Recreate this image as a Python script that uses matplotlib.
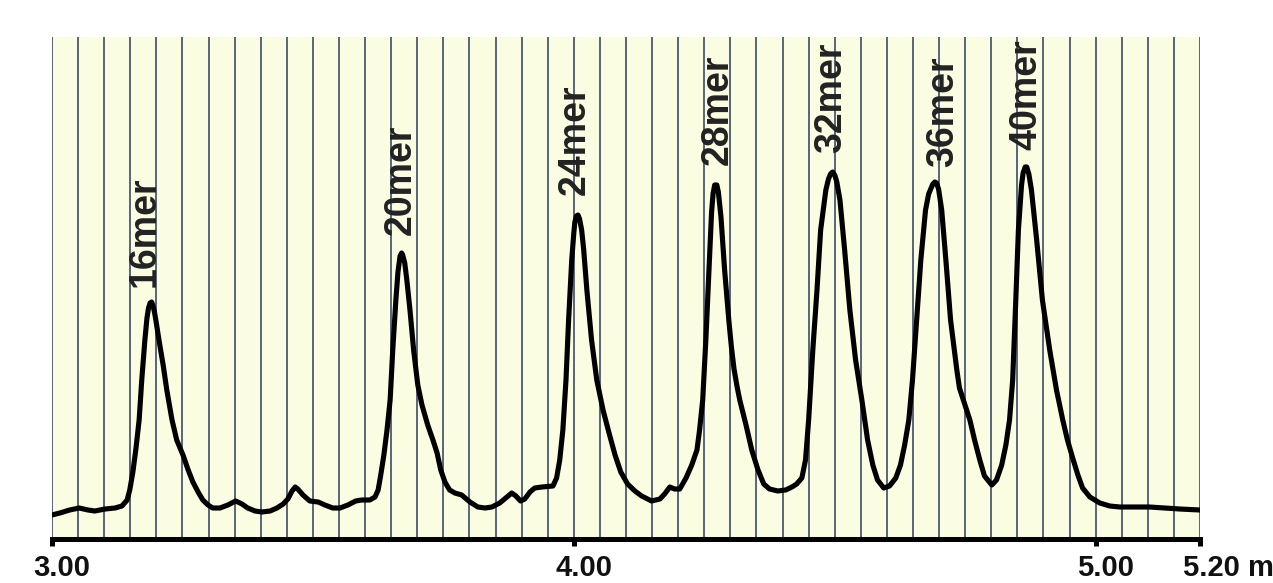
import matplotlib
matplotlib.use("Agg")
import matplotlib.pyplot as plt
import matplotlib.transforms as mtransforms
import numpy as np

# retention time (min)
time_min = [
    3.000, 3.015, 3.034, 3.052, 3.069, 3.082, 3.102, 3.121, 3.134, 3.144,
    3.149, 3.155, 3.161, 3.167, 3.172, 3.178, 3.182, 3.185, 3.188, 3.191,
    3.193, 3.196, 3.199,
    3.205, 3.213, 3.220, 3.230, 3.239, 3.251, 3.261, 3.270, 3.280, 3.289,
    3.299, 3.308, 3.322, 3.337, 3.352, 3.364, 3.375, 3.389, 3.402, 3.418,
    3.431, 3.443, 3.452, 3.460, 3.466, 3.471, 3.481, 3.494, 3.510, 3.523,
    3.538, 3.552, 3.567, 3.582, 3.594, 3.609, 3.619, 3.625, 3.630, 3.636,
    3.642, 3.648, 3.653, 3.659, 3.663, 3.667, 3.670, 3.672, 3.676, 3.680,
    3.686, 3.693,
    3.701, 3.709, 3.720, 3.730, 3.738, 3.745, 3.753, 3.762, 3.772, 3.785,
    3.801, 3.816, 3.830, 3.843, 3.858, 3.872, 3.881, 3.889, 3.898, 3.906,
    3.916, 3.925, 3.939, 3.960, 3.967, 3.973, 3.979, 3.985, 3.990, 3.996,
    4.000, 4.002, 4.005, 4.008, 4.011, 4.015, 4.019, 4.025, 4.034, 4.044,
    4.056, 4.067, 4.079,
    4.090, 4.103, 4.117, 4.130, 4.149, 4.165, 4.174, 4.184, 4.193, 4.203,
    4.215, 4.226, 4.236, 4.241, 4.247, 4.253, 4.259, 4.264, 4.267, 4.270,
    4.274, 4.277, 4.282, 4.289, 4.297, 4.302, 4.307, 4.313, 4.318, 4.330,
    4.341, 4.353, 4.364, 4.375,
    4.391, 4.406, 4.418, 4.427, 4.437, 4.444, 4.450, 4.458, 4.466, 4.473,
    4.483, 4.488, 4.492, 4.496, 4.500, 4.504, 4.510, 4.519, 4.529, 4.540,
    4.552, 4.563,
    4.573, 4.582, 4.594, 4.605, 4.617, 4.626, 4.634, 4.642, 4.649, 4.657,
    4.665, 4.674, 4.680, 4.688, 4.692, 4.695, 4.699, 4.705, 4.713, 4.722,
    4.734, 4.739, 4.749, 4.759, 4.768, 4.778, 4.787, 4.801, 4.810, 4.820,
    4.828, 4.835, 4.841,
    4.847, 4.852, 4.858, 4.861, 4.865, 4.868, 4.872, 4.877, 4.887, 4.898,
    4.912, 4.925,
    4.937, 4.946, 4.956, 4.966, 4.975, 4.989, 5.008, 5.027, 5.046, 5.075,
    5.103, 5.132, 5.161, 5.200,
]

# detector signal (a.u.)
signal = [
    24, 26, 29, 31, 29, 28, 30, 31, 33, 39,
    49, 67, 91, 119, 159, 199, 221, 231, 236, 237,
    234, 228, 219,
    199, 174, 149, 119, 99, 84, 69, 57, 47, 39,
    34, 31, 31, 34, 38, 35, 31, 28, 27, 28,
    31, 35, 40, 48, 52, 50, 44, 38, 37, 34,
    31, 31, 34, 38, 39, 39, 42, 49, 64, 84,
    109, 139, 189, 239, 267, 283, 286, 284, 276, 259,
    229, 189,
    154, 134, 114, 99, 86, 69, 57, 49, 46, 44,
    37, 32, 31, 32, 36, 42, 46, 43, 38, 40,
    47, 51, 52, 53, 61, 79, 109, 159, 219, 279,
    306, 317, 323, 324, 320, 309, 289, 249, 199, 159,
    129, 107, 84,
    67, 55, 48, 43, 38, 40, 45, 52, 50, 50,
    61, 74, 89, 109, 139, 199, 269, 327, 346, 354,
    354, 347, 322, 269, 219, 192, 170, 152, 139, 114,
    89, 69, 55, 50,
    48, 49, 52, 55, 61, 79, 119, 189, 249, 309,
    349, 360, 365, 367, 364, 357, 339, 289, 229, 179,
    139, 99,
    74, 59, 51, 53, 61, 74, 94, 119, 159, 219,
    279, 329, 345, 355, 357, 356, 350, 329, 279, 219,
    169, 151, 135, 119, 99, 79, 63, 54, 59, 74,
    94, 119, 159,
    239, 309, 354, 366, 372, 372, 365, 349, 299, 239,
    189, 149,
    119, 99, 81, 64, 51, 42, 36, 33, 32, 32,
    32, 31, 30, 29,
]

peak_labels = ["16mer", "20mer", "24mer", "28mer", "32mer", "36mer", "40mer"]
label_time = [3.178, 3.669, 4.002, 4.276, 4.494, 4.707, 4.868]
label_base = [252, 304, 344, 374, 386, 372, 389]

tick_values = [3.00, 4.00, 5.00, 5.20]
tick_labels = ["3.00", "4.00", "5.00", "5.20 m"]

grid_step = 0.05

fig = plt.figure(figsize=(12.73, 5.83), dpi=100)
ax = fig.add_axes([52 / 1273, 1 - 539 / 583, 1148 / 1273, 502 / 583])
ax.set_facecolor("#fbfde3")

ax.set_xlim(3.0, 5.2)
ax.set_ylim(0, 502)

grid_x = np.arange(3.0, 5.2 + 1e-9, grid_step)
for gx in grid_x:
    ax.axvline(gx, color="#2b3d5e", lw=1.1, zorder=1)

ax.plot(time_min, signal, color="black", lw=3.7, zorder=3,
        solid_joinstyle="round", solid_capstyle="round")

for lab, tx, ty in zip(peak_labels, label_time, label_base):
    ax.text(tx, ty, lab, rotation=90, ha="center", va="bottom",
            fontsize=27, fontweight="bold", color="#222222",
            family="Liberation Sans", zorder=4)

for side in ["top", "left", "right"]:
    ax.spines[side].set_visible(False)
ax.spines["bottom"].set_linewidth(3.6)
ax.spines["bottom"].set_color("black")
ax.spines["bottom"].set_zorder(5)
ax.set_yticks([])
ax.set_xticks(tick_values)
ax.set_xticklabels(tick_labels)
ax.tick_params(axis="x", direction="out", length=5, width=3.6, color="black",
               pad=6, labelsize=21)
for lbl, txt in zip(ax.get_xticklabels(), tick_labels):
    lbl.set_fontweight("bold")
    lbl.set_family("Liberation Sans")
    lbl.set_color("#111111")
    if txt.endswith("m"):
        lbl.set_ha("left")
        off = -17
    else:
        off = 10
    lbl.set_transform(lbl.get_transform() +
                      mtransforms.ScaledTranslation(off / 100, 0, fig.dpi_scale_trans))

fig.savefig("out.png", dpi=100, facecolor="white")
